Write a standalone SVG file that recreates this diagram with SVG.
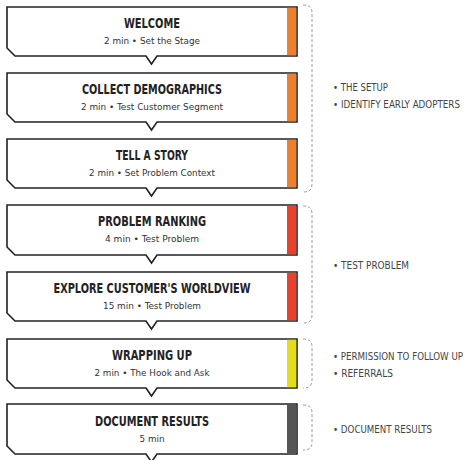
<svg xmlns="http://www.w3.org/2000/svg" width="469" height="460" viewBox="0 0 469 460">
<style>
.box{fill:#fff;stroke:#222;stroke-width:1.6;stroke-linejoin:miter}
.t{font-family:"Liberation Sans Narrow","DejaVu Sans Condensed","Liberation Sans",sans-serif;font-weight:bold;font-size:14px;fill:#222;text-anchor:middle}
.s{font-family:"Liberation Sans Narrow","DejaVu Sans Condensed","Liberation Sans",sans-serif;font-size:9.5px;fill:#333;text-anchor:middle}
.l{font-family:"Liberation Sans Narrow","DejaVu Sans Condensed","Liberation Sans",sans-serif;font-size:10px;fill:#444}
.br{fill:none;stroke:#9a9a9a;stroke-width:1;stroke-dasharray:3 2}
</style>
<rect width="469" height="460" fill="#fff"/>
<g id="welcome">
<path class="box" d="M7,7 H297 V56 H157 L151.5,64 L146,56 H15 L7,48 Z"/>
<rect x="287" y="7.8" width="9.2" height="47.4" fill="#EE7F2D"/>
<text class="t" x="152" y="28" textLength="56" lengthAdjust="spacingAndGlyphs">WELCOME</text>
<text class="s" x="152" y="44" textLength="96" lengthAdjust="spacingAndGlyphs">2 min • Set the Stage</text>
</g>
<g id="collect">
<path class="box" d="M7,73 H297 V122 H157 L151.5,130 L146,122 H15 L7,114 Z"/>
<rect x="287" y="73.8" width="9.2" height="47.4" fill="#EE7F2D"/>
<text class="t" x="152" y="94" textLength="140" lengthAdjust="spacingAndGlyphs">COLLECT DEMOGRAPHICS</text>
<text class="s" x="152" y="110" textLength="142" lengthAdjust="spacingAndGlyphs">2 min • Test Customer Segment</text>
</g>
<g id="story">
<path class="box" d="M7,139 H297 V188 H157 L151.5,196 L146,188 H15 L7,180 Z"/>
<rect x="287" y="139.8" width="9.2" height="47.4" fill="#EE7F2D"/>
<text class="t" x="152" y="160" textLength="72" lengthAdjust="spacingAndGlyphs">TELL A STORY</text>
<text class="s" x="152" y="176" textLength="126" lengthAdjust="spacingAndGlyphs">2 min • Set Problem Context</text>
</g>
<g id="ranking">
<path class="box" d="M7,205 H297 V255 H157 L151.5,263 L146,255 H15 L7,247 Z"/>
<rect x="287" y="205.8" width="9.2" height="48.4" fill="#E8412C"/>
<text class="t" x="152" y="226" textLength="108" lengthAdjust="spacingAndGlyphs">PROBLEM RANKING</text>
<text class="s" x="152" y="242" textLength="94" lengthAdjust="spacingAndGlyphs">4 min • Test Problem</text>
</g>
<g id="explore">
<path class="box" d="M7,272 H297 V321 H157 L151.5,329 L146,321 H15 L7,313 Z"/>
<rect x="287" y="272.8" width="9.2" height="47.4" fill="#E8412C"/>
<text class="t" x="152" y="293" textLength="197" lengthAdjust="spacingAndGlyphs">EXPLORE CUSTOMER'S WORLDVIEW</text>
<text class="s" x="152" y="309" textLength="98" lengthAdjust="spacingAndGlyphs">15 min • Test Problem</text>
</g>
<g id="wrapping">
<path class="box" d="M7,339 H297 V388 H157 L151.5,396 L146,388 H15 L7,380 Z"/>
<rect x="287" y="339.8" width="9.2" height="47.4" fill="#E5DC1A"/>
<text class="t" x="152" y="360" textLength="80" lengthAdjust="spacingAndGlyphs">WRAPPING UP</text>
<text class="s" x="152" y="376" textLength="115" lengthAdjust="spacingAndGlyphs">2 min • The Hook and Ask</text>
</g>
<g id="document">
<path class="box" d="M7,404 H297 V454 H157 L151.5,462 L146,454 H15 L7,446 Z"/>
<rect x="287" y="404.8" width="9.2" height="48.4" fill="#555555"/>
<text class="t" x="152" y="426" textLength="114" lengthAdjust="spacingAndGlyphs">DOCUMENT RESULTS</text>
<text class="s" x="152" y="442" textLength="25" lengthAdjust="spacingAndGlyphs">5 min</text>
</g>
<g id="connectors">
<path class="br" d="M303,5 C310,5 312,8 312,13 V184 C312,189 310,192 303,192"/>
<path class="br" d="M303,206 C310,206 312,209 312,214 V315 C312,320 310,323 303,323"/>
<path class="br" d="M303,339 C310,339 312,342 312,347 V380 C312,385 310,388 303,388"/>
<path class="br" d="M303,405 C310,405 312,408 312,413 V442 C312,447 310,450 303,450"/>
</g>
<g id="labels">
<text class="l" x="333" y="91" textLength="55" lengthAdjust="spacingAndGlyphs">• THE SETUP</text>
<text class="l" x="333" y="108" textLength="127" lengthAdjust="spacingAndGlyphs">• IDENTIFY EARLY ADOPTERS</text>
<text class="l" x="333" y="269" textLength="76" lengthAdjust="spacingAndGlyphs">• TEST PROBLEM</text>
<text class="l" x="333" y="360" textLength="130" lengthAdjust="spacingAndGlyphs">• PERMISSION TO FOLLOW UP</text>
<text class="l" x="333" y="377" textLength="60" lengthAdjust="spacingAndGlyphs">• REFERRALS</text>
<text class="l" x="333" y="433" textLength="99" lengthAdjust="spacingAndGlyphs">• DOCUMENT RESULTS</text>
</g>
</svg>
